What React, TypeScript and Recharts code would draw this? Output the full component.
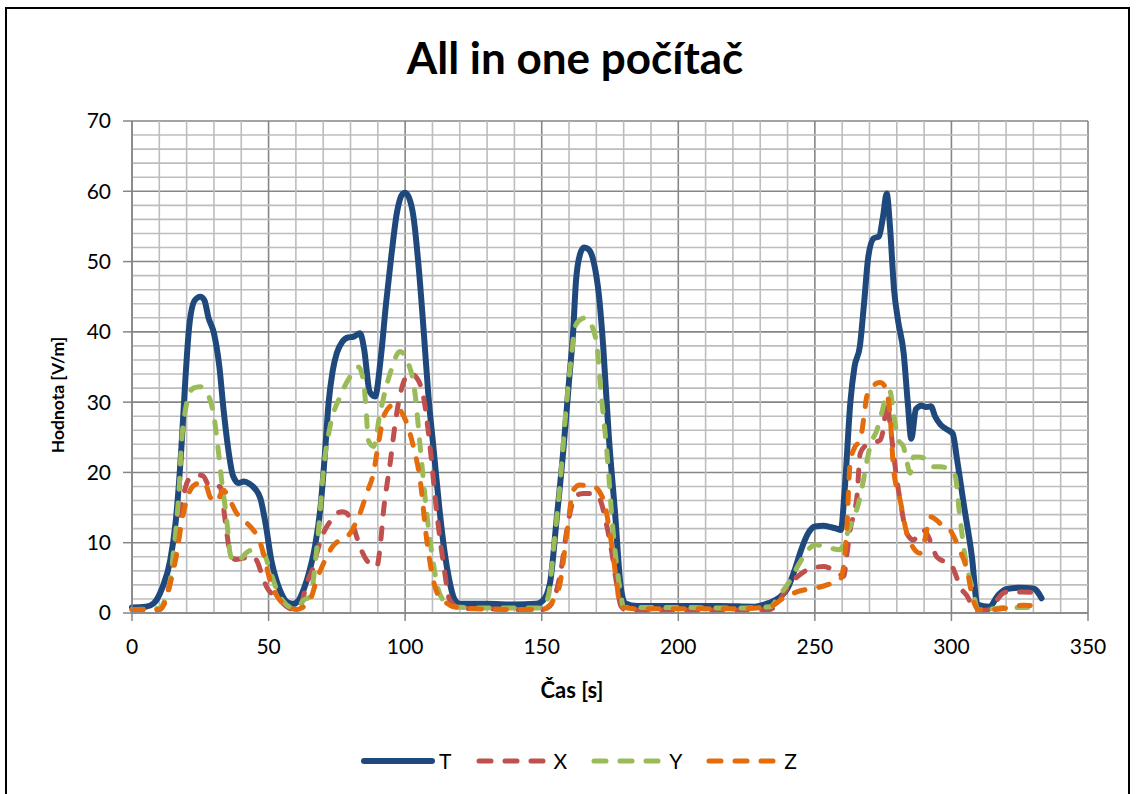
import React from 'react';
import { LineChart, Line, XAxis, YAxis, CartesianGrid, ReferenceLine, Legend } from 'recharts';

// time [s] and value [V/m] per series
const tT = [0, 5, 8, 11, 14, 16, 18, 19.5, 21, 23, 25, 26.5, 28, 30, 32, 33.5, 35, 37, 39, 41, 43, 45, 47, 49, 51, 53, 55, 57, 59, 61, 63, 65, 67, 69, 70.5, 72, 73.5, 75, 77, 79, 81, 83.5, 85, 87, 89, 91, 93, 95, 97, 99, 100, 101.5, 103, 105, 107, 108.5, 110.5, 112.5, 114.5, 116, 118, 120, 130, 140, 148, 150.5, 153, 155.5, 158, 160, 161.5, 162.5, 164, 165.5, 167, 169, 171, 172.5, 174.5, 177, 178.7, 180.5, 185, 200, 215, 228, 233, 237, 240, 242.5, 245, 247.5, 250, 253, 256, 258, 259.5, 261, 263, 264.5, 266.5, 268, 269.5, 271.5, 273.5, 275, 276.3, 277.5, 279, 280.5, 282.5, 284, 285.3, 287, 289, 291, 292.5, 294, 296, 298, 300.5, 302, 304.5, 307.5, 309.5, 314, 317, 320, 325, 330, 333];
const vT = [0.8, 0.9, 1.4, 3.5, 7.5, 13, 23, 33, 41, 44.5, 45, 44.5, 42, 39.8, 35, 29, 24, 19.5, 18.5, 18.7, 18.4, 17.7, 16.3, 12.5, 7.5, 4.5, 2.5, 1.5, 1.3, 1.8, 3.5, 6, 9.5, 15, 22, 30, 34.5, 37, 38.6, 39.2, 39.3, 39.8, 37.5, 31.5, 30.8, 36, 44, 51, 57, 59.6, 59.8, 59, 56.5, 49, 39, 31, 23, 15, 8.5, 5, 2, 1.3, 1.3, 1.2, 1.3, 1.8, 4.2, 13.5, 23.5, 33, 40, 47, 51, 52, 51.8, 50, 45, 38, 25.5, 13.5, 4.5, 1.4, 1.0, 1.0, 1.0, 0.9, 1.4, 2.2, 3.5, 6, 9, 11.3, 12.3, 12.4, 12.2, 12, 11.8, 18, 30, 35, 38, 44, 50.5, 53.3, 53.6, 56.5, 59.7, 55, 46, 41.5, 37, 30, 24.8, 29, 29.5, 29.3, 29.4, 28, 26.8, 26.2, 25.5, 22, 15.5, 8, 1.2, 0.9, 2.5, 3.4, 3.6, 3.5, 2.1];

const tX = [0, 10, 12, 14, 16, 17.6, 19, 20.6, 23, 24.5, 26, 28, 30, 32.2, 33.5, 34.5, 36, 38, 40.8, 43, 44.4, 46, 47.5, 49.3, 52, 54.2, 57, 59.1, 61.5, 64, 66.4, 68, 70, 72.5, 75, 77, 78.6, 81, 83.5, 85.9, 88, 89.6, 91, 92, 94.5, 96.9, 99.3, 101.8, 104.8, 106.7, 109.1, 111.6, 114, 116.4, 120, 130, 140, 150, 152, 154.5, 157, 159.5, 161.5, 163, 165.3, 168, 170, 171.4, 173.5, 175.5, 177.5, 179, 181, 200, 220, 233.6, 237, 241, 244, 247, 250, 253.1, 256, 258.5, 260.5, 261.8, 262.9, 264.2, 265.4, 266.6, 268.5, 270.2, 272, 273.9, 275, 276.5, 277.5, 278.8, 280, 281.2, 283.7, 286.1, 288, 289.7, 291, 293, 294.6, 297, 299.5, 301.5, 303.2, 305.6, 308.9, 313, 316, 318.5, 320.3, 326, 330, 332.8];
const vX = [0.5, 0.5, 1.5, 4.7, 10, 14.2, 17, 18.9, 19.5, 19.6, 19.5, 18.2, 17.8, 18, 15, 12, 8.5, 7.6, 7.8, 8.1, 8, 7.2, 5.5, 3.7, 2.5, 1.8, 0.8, 0.5, 0.9, 4.2, 6.6, 9, 11.3, 13, 14.2, 14.4, 14.2, 12.3, 9.4, 7.5, 6.9, 6.6, 10, 14.2, 21.3, 28.4, 32.7, 34.1, 33.1, 30.8, 23.7, 14.2, 7.1, 1.8, 0.7, 0.6, 0.5, 0.5, 0.7, 2, 6, 12.5, 16, 16.8, 17, 17, 16.8, 16.1, 13, 9, 4, 1, 0.4, 0.4, 0.4, 0.5, 1.8, 4.2, 5.3, 6.1, 6.5, 6.6, 6.3, 5.8, 5.2, 8.5, 11.8, 14, 16.5, 22.7, 23.8, 24.1, 24.3, 24.6, 26, 30, 27, 22.7, 19, 16.1, 11.3, 10.4, 11.3, 11.8, 11.3, 9.5, 8, 7.4, 7.1, 5.5, 3.7, 2.5, 0.4, 0.4, 1.5, 2.7, 3.0, 3.0, 2.9, 1.9];

const tY = [0, 10.3, 12, 13.9, 15, 16.4, 17.3, 18.2, 19.4, 20.6, 22.5, 24.9, 26.5, 28.6, 30, 31, 32.8, 34.7, 35.9, 37, 38.3, 40, 42, 44.4, 46, 48.1, 50.5, 52.5, 54.2, 56.5, 59.1, 61, 62.7, 65.2, 67.6, 68.8, 70, 72.5, 76.2, 79.8, 82.9, 84.7, 85.7, 86.5, 88.4, 90.8, 94.5, 98.1, 100.6, 103.6, 105.5, 107.9, 110.3, 112, 114, 117.6, 130, 150, 152.5, 154.3, 156.7, 159.2, 161, 162.2, 164, 166, 168.9, 170.5, 171.4, 173.8, 176.2, 178.7, 180, 200, 220, 233.6, 237, 241, 243.5, 245.8, 248, 250.7, 253, 256, 259.2, 261, 262.9, 264.5, 266, 267.8, 269, 270.2, 272.7, 274.5, 275.7, 277.5, 278.8, 280.6, 282.4, 283.7, 284.9, 286.1, 288, 291, 293.4, 296, 298.3, 301.3, 303, 305, 307.5, 309.8, 315, 320, 326, 332.5];
const vY = [0.5, 0.7, 1.8, 4.2, 8, 13.2, 18, 24.6, 28.5, 30.8, 32, 32.2, 31.8, 30.3, 28, 25.1, 18.9, 13.2, 8.5, 7.5, 7.3, 7.8, 8.6, 9, 8.8, 8.5, 6.1, 3.8, 2.3, 1.2, 0.7, 0.9, 1.8, 2.3, 9, 14, 19.9, 26.5, 30.8, 33.6, 35, 33.1, 29, 24.6, 23.7, 28.4, 34.1, 37.2, 36, 31.3, 23.7, 14.2, 7.1, 3.5, 1.8, 0.9, 0.7, 0.7, 2.5, 9, 18.4, 30.3, 37, 40.7, 41.7, 42, 40.3, 37, 32.7, 23.2, 11.3, 3.3, 0.8, 0.8, 0.7, 0.9, 2.5, 4.7, 6.5, 8, 9.2, 9.7, 9.5, 9.2, 9, 10.5, 12.3, 13.8, 15.6, 18.9, 21.5, 23.7, 26, 28.5, 30.3, 31.5, 28.4, 24.6, 23.7, 21.5, 19.9, 22.2, 22.2, 21.8, 20.8, 20.8, 20.6, 19.6, 14, 8, 3.7, 0.5, 0.6, 0.8, 0.8, 0.7];

const tZ = [0, 10, 12.7, 14.5, 16.4, 18, 20, 21.8, 23.7, 26.1, 27.5, 28.6, 31, 33.4, 35.5, 38.3, 41.5, 44.4, 46.5, 48.1, 50.5, 52.5, 54.2, 57, 60.4, 62.5, 65.2, 67.6, 71.3, 73.5, 76.2, 79.8, 81.5, 83.5, 85.9, 88.4, 90.2, 92.6, 95.7, 98.1, 100.6, 103, 105.5, 107.9, 110.3, 112, 114, 117.6, 125, 140, 150, 152, 154.5, 156.7, 159.2, 161.6, 164, 166.5, 168.9, 172.6, 175, 177.5, 178.7, 185, 200, 220, 233.6, 238, 243.4, 247.5, 251.9, 256, 259.2, 260.5, 261.7, 262.9, 264.5, 266.6, 268, 269, 270.8, 272.7, 273.9, 275.7, 277.5, 278.8, 281.2, 283.7, 286, 288.5, 290.3, 292.2, 294.6, 297, 299.5, 300.7, 303, 305.6, 308, 309.8, 315, 320, 326.4, 330, 332.5];
const vZ = [0.5, 0.5, 2.3, 5, 8.5, 12.5, 16.1, 17.8, 18.4, 18.7, 17.8, 16.5, 15.8, 17.5, 16.3, 14.2, 13, 11.8, 10.5, 8.5, 4.7, 2.8, 1.8, 0.9, 0.5, 0.8, 1.8, 4.7, 8, 9.5, 10.4, 11.3, 12.5, 14.2, 17, 19.9, 24.1, 28.4, 29.6, 28.9, 27, 23.7, 18.9, 10.4, 4.7, 2.6, 1.8, 0.9, 0.6, 0.5, 0.5, 0.8, 2, 4.2, 11.3, 17.5, 18.2, 18.1, 18, 16.1, 11.3, 4.2, 0.9, 0.6, 0.6, 0.6, 0.9, 2, 3.0, 3.4, 3.7, 4.2, 4.7, 6.6, 12, 21.3, 23.5, 24.6, 28, 30.8, 32, 32.7, 32.8, 32.2, 28.4, 20.5, 16.1, 11.3, 9.3, 8.5, 10.5, 13.7, 13.2, 12.3, 11.8, 11, 9, 6.3, 1.8, 0.5, 0.5, 0.7, 1.1, 1.0, 0.7];

const xTicks = [0, 50, 100, 150, 200, 250, 300, 350];
const yTicks = [0, 10, 20, 30, 40, 50, 60, 70];
const minorX = Array.from({ length: 35 }, (_, i) => i * 10).filter((v) => v % 50 !== 0);
const minorY = Array.from({ length: 35 }, (_, i) => i * 2).filter((v) => v % 10 !== 0);

const toRows = (t: number[], v: number[]) => t.map((time, i) => ({ time, value: v[i] }));

const series = [
  { name: 'T', data: toRows(tT, vT), color: '#1F497D', dash: undefined, width: 6 },
  { name: 'X', data: toRows(tX, vX), color: '#C0504D', dash: '11 14', width: 5 },
  { name: 'Y', data: toRows(tY, vY), color: '#9BBB59', dash: '11 14', width: 5 },
  { name: 'Z', data: toRows(tZ, vZ), color: '#E46C0A', dash: '11 14', width: 5 },
];

const font = 'Lato, "Open Sans", sans-serif';

const LegendContent = () => (
  <div style={{ display: 'flex', justifyContent: 'center', fontFamily: font, fontSize: 21, color: '#000', paddingLeft: 28 }}>
    {series.map((s) => (
      <div key={s.name} style={{ display: 'flex', alignItems: 'center', marginRight: 22 }}>
        <svg width={80} height={20}>
          <line x1={5} y1={10} x2={73} y2={10} stroke={s.color} strokeWidth={s.width}
            strokeDasharray={s.dash ? '12 14' : undefined} strokeLinecap="round" />
        </svg>
        <span>{s.name}</span>
      </div>
    ))}
  </div>
);

export default function App() {
  return (
    <div>
      <div style={{ position: 'absolute', left: 5, top: 7, width: 1121, height: 830, border: '2px solid #000' }} />
      <div style={{ position: 'absolute', left: 0, top: 31, width: 1150, textAlign: 'center', fontFamily: font, fontWeight: 700, fontSize: 44 }}>
        All in one počítač
      </div>
      <div style={{ position: 'absolute', left: 0, top: 0 }}>
        <LineChart width={1136} height={794} margin={{ top: 121, right: 48, left: 72, bottom: 141 }}>
          <XAxis type="number" dataKey="time" domain={[0, 350]} ticks={xTicks} interval={0}
            allowDuplicatedCategory={false} height={40} tickSize={8} tickMargin={18}
            tick={{ fill: '#000', fontSize: 21, fontFamily: font }}
            axisLine={{ stroke: '#868686', strokeWidth: 1.5 }} tickLine={{ stroke: '#868686', strokeWidth: 1.5 }}
            label={{
              content: (p: any) => (
                <text x={p.viewBox.x + p.viewBox.width / 2 - 38} y={p.viewBox.y + 85} textAnchor="middle"
                  fontFamily={font} fontWeight={700} fontSize={22} fill="#000">Čas [s]</text>
              ),
            }} />
          <YAxis type="number" domain={[0, 70]} ticks={yTicks} interval={0} width={60}
            tickSize={9} tickMargin={12}
            tick={{ fill: '#000', fontSize: 21, fontFamily: font }}
            axisLine={{ stroke: '#868686', strokeWidth: 1.5 }} tickLine={{ stroke: '#868686', strokeWidth: 1.5 }}
            label={{
              content: (p: any) => {
                const cx = 64;
                const cy = p.viewBox.y + p.viewBox.height / 2 + 28;
                return (
                  <text x={cx} y={cy} textAnchor="middle" transform={`rotate(-90 ${cx} ${cy})`}
                    fontFamily={font} fontWeight={700} fontSize={17.5} fill="#000">Hodnota [V/m]</text>
                );
              },
            }} />
          {minorX.map((v) => (
            <ReferenceLine key={'mx' + v} x={v} stroke="#BDBDBD" strokeWidth={1.6} />
          ))}
          {minorY.map((v) => (
            <ReferenceLine key={'my' + v} y={v} stroke="#BDBDBD" strokeWidth={1.6} />
          ))}
          <CartesianGrid stroke="#868686" strokeWidth={1.6} />
          {series.map((s) => (
            <Line key={s.name} data={s.data} dataKey="value" name={s.name} type="monotone"
              stroke={s.color} strokeWidth={s.width} strokeDasharray={s.dash} strokeLinecap="round"
              strokeLinejoin="round" dot={false} activeDot={false} isAnimationActive={false} />
          ))}
          <Legend verticalAlign="middle" align="center" content={<LegendContent />}
            wrapperStyle={{ top: 748, left: 0, width: 1150 }} />
        </LineChart>
      </div>
    </div>
  );
}
